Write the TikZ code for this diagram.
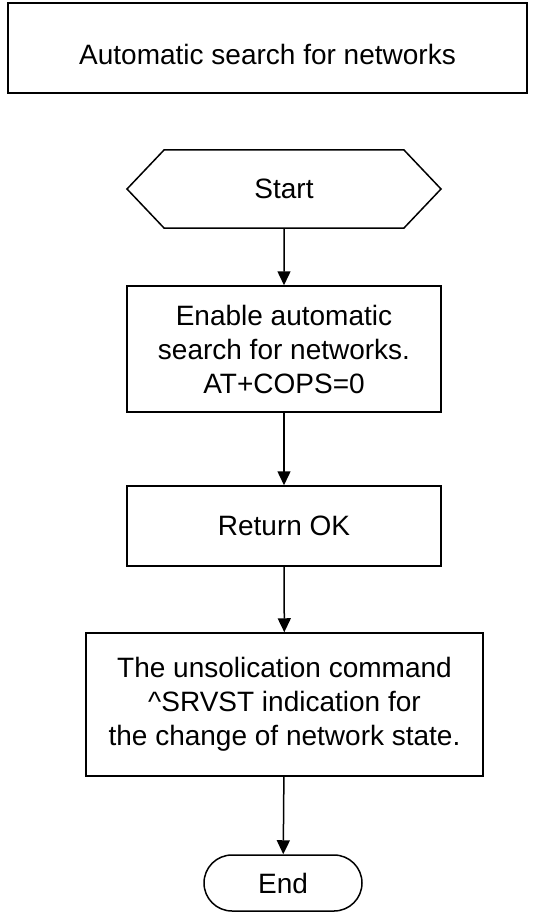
\documentclass[tikz,border=0pt]{standalone}
\usepackage{fontspec}
\setmainfont{Liberation Sans}
\usetikzlibrary{shapes.misc,shapes.symbols,arrows.meta}

\tikzset{
    box/.style={draw, line width=1.5pt, align=center, inner sep=0pt},
    flow/.style={-{Triangle[length=14pt,width=13pt]}, line width=1.5pt}
}

\begin{document}
\begin{tikzpicture}[x=1pt, y=-1pt, font=\fontsize{28}{34}\selectfont]
    % Page size
    \useasboundingbox (0,0) rectangle (536,912);

    % Title
    \node[box, line width=2pt, text height=34pt, text depth=0pt,
          minimum width=519pt, minimum height=90pt] (title) at (267.5,48) {Automatic search for networks};

    % Start
    \node[box, signal, signal to=east and west, signal pointer angle=93,
          minimum width=314pt, minimum height=78pt] (start) at (284,189) {Start};

    % Steps
    \node[box, minimum width=314pt, minimum height=126pt] (enable) at (284,349)
        {Enable automatic\\search for networks.\\AT+COPS=0};
    \node[box, minimum width=314pt, minimum height=80pt] (retok) at (284,526) {Return OK};
    \node[box, minimum width=397pt, minimum height=143pt] (srvst) at (284.5,704.5)
        {The unsolication command\\\textasciicircum SRVST indication for\\the change of network state.};

    % End
    \node[box, rounded rectangle, minimum width=158pt, minimum height=56pt] (stop) at (283,883) {End};

    % Arrows
    \draw[flow] (start) -- (enable);
    \draw[flow] (enable) -- (retok);
    \draw[flow] (retok) -- (srvst);
    \draw[flow] (srvst) -- (stop);
\end{tikzpicture}
\end{document}
